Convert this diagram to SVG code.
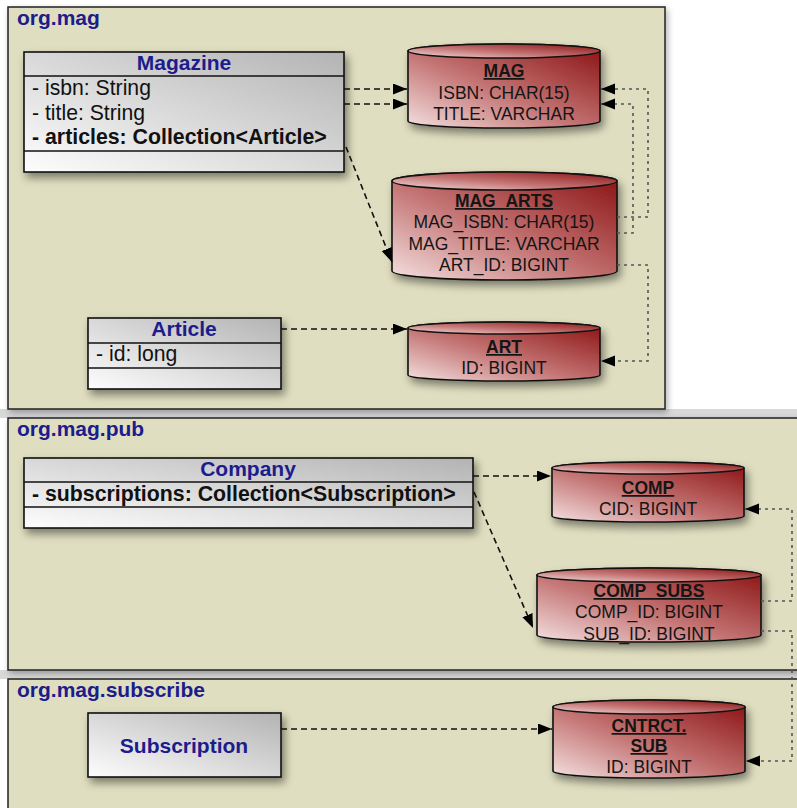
<svg xmlns="http://www.w3.org/2000/svg" width="797" height="808" viewBox="0 0 797 808">
<defs>
  <linearGradient id="gCls" x1="0" y1="1" x2="1" y2="0">
    <stop offset="0" stop-color="#fdfdfd"/>
    <stop offset="1" stop-color="#b3b3b3"/>
  </linearGradient>
  <linearGradient id="gDb" x1="0" y1="1" x2="1" y2="0">
    <stop offset="0" stop-color="#f4e0e0"/>
    <stop offset="0.45" stop-color="#c47474"/>
    <stop offset="1" stop-color="#8a1010"/>
  </linearGradient>
  <filter id="sh" x="-10%" y="-10%" width="130%" height="140%">
    <feDropShadow dx="3" dy="5" stdDeviation="4" flood-color="#000" flood-opacity="0.45"/>
  </filter>
  <filter id="shp" x="-5%" y="-5%" width="115%" height="115%">
    <feDropShadow dx="2" dy="3" stdDeviation="3" flood-color="#000" flood-opacity="0.3"/>
  </filter>
  <marker id="arr" markerUnits="userSpaceOnUse" markerWidth="15" markerHeight="12" refX="14" refY="5.5" orient="auto">
    <path d="M0,0 L14,5.5 L0,11 Z" fill="#000"/>
  </marker>
</defs>
<style>
  .pkg { fill: #dfdec0; stroke: #222; stroke-width: 1.5; }
  .plbl { font-family: "Liberation Sans", Arial, sans-serif; font-weight: bold; font-size: 21px; fill: #1c1c8c; }
  .cls { fill: url(#gCls); stroke: #111; stroke-width: 1.6; }
  .sep { stroke: #111; stroke-width: 1.6; }
  .ctitle { font-family: "Liberation Sans", Arial, sans-serif; font-weight: bold; font-size: 21px; fill: #1c1c8c; text-anchor: middle; }
  .attr { font-family: "Liberation Sans", Arial, sans-serif; font-size: 21.2px; fill: #111; }
  .attrb { font-family: "Liberation Sans", Arial, sans-serif; font-size: 21.3px; fill: #111; font-weight: bold; }
  .db { fill: url(#gDb); stroke: #111; stroke-width: 1.6; }
  .dbt { font-family: "Liberation Sans", Arial, sans-serif; font-size: 17.5px; fill: #151515; text-anchor: middle; }
  .dbh { font-weight: bold; text-decoration: underline; }
  .dash { fill: none; stroke: #111; stroke-width: 1.6; stroke-dasharray: 6 4; marker-end: url(#arr); }
  .dot { fill: none; stroke: #555; stroke-width: 1.6; stroke-dasharray: 3 4; marker-end: url(#arr); }
</style>
<rect x="0" y="0" width="797" height="808" fill="#ffffff"/>
<rect x="0" y="409" width="797" height="9" fill="#d9d9d9"/>
<rect x="0" y="670" width="797" height="9" fill="#d9d9d9"/>

<g id="pkg-org-mag">
  <rect class="pkg" x="8" y="7" width="657" height="402" filter="url(#shp)"/>
  <text class="plbl" x="17" y="25">org.mag</text>
</g>
<g id="pkg-org-mag-pub">
  <rect class="pkg" x="8" y="418" width="800" height="252" filter="url(#shp)"/>
  <text class="plbl" x="17" y="436">org.mag.pub</text>
</g>
<g id="pkg-org-mag-subscribe">
  <rect class="pkg" x="8" y="679" width="800" height="140"/>
  <text class="plbl" x="17" y="697">org.mag.subscribe</text>
</g>

<g id="Magazine">
  <rect class="cls" x="24" y="52" width="320" height="120" filter="url(#sh)"/>
  <line class="sep" x1="24" y1="76" x2="344" y2="76"/>
  <line class="sep" x1="24" y1="151" x2="344" y2="151"/>
  <text class="ctitle" x="184" y="70">Magazine</text>
  <text class="attr" x="32" y="95">- isbn: String</text>
  <text class="attr" x="32" y="120">- title: String</text>
  <text class="attrb" x="32" y="144">- articles: Collection&lt;Article&gt;</text>
</g>

<g id="Article">
  <rect class="cls" x="88" y="318" width="193" height="71" filter="url(#sh)"/>
  <line class="sep" x1="88" y1="343" x2="281" y2="343"/>
  <line class="sep" x1="88" y1="368" x2="281" y2="368"/>
  <text class="ctitle" x="184" y="336">Article</text>
  <text class="attr" x="96" y="361">- id: long</text>
</g>

<g id="Company">
  <rect class="cls" x="24" y="458" width="449" height="70" filter="url(#sh)"/>
  <line class="sep" x1="24" y1="482" x2="473" y2="482"/>
  <line class="sep" x1="24" y1="507" x2="473" y2="507"/>
  <text class="ctitle" x="248" y="476">Company</text>
  <text class="attrb" x="32" y="501">- subscriptions: Collection&lt;Subscription&gt;</text>
</g>

<g id="Subscription">
  <rect class="cls" x="88" y="713" width="193" height="64" filter="url(#sh)"/>
  <text class="ctitle" x="184" y="753">Subscription</text>
</g>

<g id="MAG">
  <path class="db" filter="url(#sh)" d="M408,51 L408,121 A96,7 0 0 0 600,121 L600,51 A96,7 0 0 0 408,51 Z"/>
  <ellipse class="db" cx="504" cy="51" rx="96" ry="7"/>
  <text class="dbt dbh" x="504" y="77">MAG</text>
  <text class="dbt" x="504" y="99">ISBN: CHAR(15)</text>
  <text class="dbt" x="504" y="120">TITLE: VARCHAR</text>
</g>

<g id="MAG_ARTS">
  <path class="db" filter="url(#sh)" d="M392,181 L392,271 A112.5,9 0 0 0 617,271 L617,181 A112.5,9 0 0 0 392,181 Z"/>
  <ellipse class="db" cx="504.5" cy="181" rx="112.5" ry="9"/>
  <text class="dbt dbh" x="504" y="207">MAG_ARTS</text>
  <text class="dbt" x="504" y="228">MAG_ISBN: CHAR(15)</text>
  <text class="dbt" x="504" y="250">MAG_TITLE: VARCHAR</text>
  <text class="dbt" x="504" y="271">ART_ID: BIGINT</text>
</g>

<g id="ART">
  <path class="db" filter="url(#sh)" d="M408,328 L408,375 A96,6 0 0 0 600,375 L600,328 A96,6 0 0 0 408,328 Z"/>
  <ellipse class="db" cx="504" cy="328" rx="96" ry="6"/>
  <text class="dbt dbh" x="504" y="353">ART</text>
  <text class="dbt" x="504" y="374">ID: BIGINT</text>
</g>

<g id="COMP">
  <path class="db" filter="url(#sh)" d="M552,468 L552,516 A96,6 0 0 0 744,516 L744,468 A96,6 0 0 0 552,468 Z"/>
  <ellipse class="db" cx="648" cy="468" rx="96" ry="6"/>
  <text class="dbt dbh" x="648" y="494">COMP</text>
  <text class="dbt" x="648" y="515">CID: BIGINT</text>
</g>

<g id="COMP_SUBS">
  <path class="db" filter="url(#sh)" d="M537,575 L537,635 A112,7 0 0 0 761,635 L761,575 A112,7 0 0 0 537,575 Z"/>
  <ellipse class="db" cx="649" cy="575" rx="112" ry="7"/>
  <text class="dbt dbh" x="649" y="597">COMP_SUBS</text>
  <text class="dbt" x="649" y="618">COMP_ID: BIGINT</text>
  <text class="dbt" x="649" y="640">SUB_ID: BIGINT</text>
</g>

<g id="CNTRCT_SUB">
  <path class="db" filter="url(#sh)" d="M553,707 L553,771 A96,7 0 0 0 745,771 L745,707 A96,7 0 0 0 553,707 Z"/>
  <ellipse class="db" cx="649" cy="707" rx="96" ry="7"/>
  <text class="dbt dbh" x="649" y="732">CNTRCT.</text>
  <text class="dbt dbh" x="649" y="752">SUB</text>
  <text class="dbt" x="649" y="773">ID: BIGINT</text>
</g>

<g id="connectors">
  <path class="dash" d="M344,89 L407,89"/>
  <path class="dash" d="M344,104 L407,104"/>
  <path class="dash" d="M346,147 C360,182 377,225 392,262"/>
  <path class="dash" d="M281,329 L407,329"/>
  <path class="dot" d="M617,217 H648 V89 H601"/>
  <path class="dot" d="M617,233 H633 V104 H601"/>
  <path class="dot" d="M617,265 H648 V361 H601"/>
  <path class="dash" d="M473,476 L551,476"/>
  <path class="dash" d="M474,492 L533,628"/>
  <path class="dot" d="M761,601 H792 V509 H745"/>
  <path class="dot" d="M761,631 H792 V761 H746"/>
  <path class="dash" d="M281,729 L552,729"/>
</g>
</svg>
